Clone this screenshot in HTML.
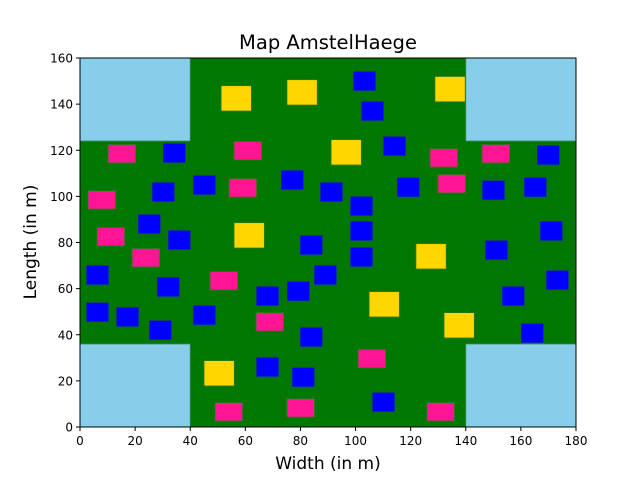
<!DOCTYPE html>
<html><head><meta charset="utf-8"><style>
html,body{margin:0;padding:0;background:#fff;}
svg{display:block;font-family:"DejaVu Sans","Liberation Sans",sans-serif;}
</style></head><body>
<svg id="chart" width="640" height="480" viewBox="0 0 640 480" xmlns="http://www.w3.org/2000/svg">
<rect width="640" height="480" fill="#fff"/>
<g id="plot"></g>
<g id="axes"></g>
<text x="328" y="49" font-size="19.5" text-anchor="middle">Map AmstelHaege</text>
<text x="328" y="469" font-size="17" text-anchor="middle">Width (in m)</text>
<text x="36" y="242" font-size="17" text-anchor="middle" transform="rotate(-90 36 242)">Length (in m)</text>
</svg>
<script>
const xTicks=[0,20,40,60,80,100,120,140,160,180];
const yTicks=[0,20,40,60,80,100,120,140,160];
const waterX=[0,140,0,140];
const waterY=[124,124,0,0];
const waterW=[40,40,40,40];
const waterH=[36,36,36,36];
const yellowX=[51.2,75.1,128.8,91.1,55.9,121.9,104.9,132.1,45];
const yellowY=[137,139.6,141,113.6,77.6,68.5,47.7,38.6,17.8];
const pinkX=[10.2,55.9,54.1,2.9,6.2,18.9,47.2,63.9,49,75.1,127,145.9,129.9,100.9,125.9];
const pinkY=[114.5,115.8,99.7,94.5,78.5,69.4,59.4,41.6,2.6,4.3,112.7,114.5,101.5,25.6,2.6];
const blueX=[30.1,26.1,41,72.9,87.1,21,31.9,79.8,2.2,27.9,63.9,75.1,84.9,2.2,13.1,25,41,79.8,63.9,76.9,99.1,102,110,165.8,115,145.9,161.1,98,98,166.9,147,98,169.1,153.1,160,106];
const blueY=[114.5,97.6,100.6,102.8,97.6,83.7,76.8,74.6,61.6,56.4,52.5,54.6,61.6,45.5,43.4,37.7,44.2,34.7,21.7,17.3,145.7,132.7,117.5,113.6,99.7,98.4,99.7,91.5,80.7,80.7,72.4,69.4,59.4,52.5,36.4,6.5];
const L=80,R=576,T=58,B=427;
const sx=v=>L+(v/180)*(R-L);
const sy=v=>B-(v/160)*(B-T);
const NS="http://www.w3.org/2000/svg";
const plot=document.getElementById('plot');
const axes=document.getElementById('axes');
function rect(x,y,w,h,fill,name,stroke){
  const r=document.createElementNS(NS,'rect');
  r.setAttribute('x',sx(x));r.setAttribute('y',sy(y+h));
  r.setAttribute('width',sx(x+w)-sx(x));r.setAttribute('height',sy(y)-sy(y+h));
  r.setAttribute('fill',fill);
  if(stroke){r.setAttribute('stroke',stroke);r.setAttribute('stroke-width','0.8');}
  
  
  plot.appendChild(r);
}
rect(0,0,180,160,'#007700','field');
for(let i=0;i<waterX.length;i++) rect(waterX[i],waterY[i],waterW[i],waterH[i],'#87ceeb','water','#3a8a4a');
for(let i=0;i<yellowX.length;i++) rect(yellowX[i],yellowY[i],11,11,'#ffd700','maison','#2a7a1a');
for(let i=0;i<pinkX.length;i++) rect(pinkX[i],pinkY[i],10,8,'#ff1493','bungalow','#2a7a1a');
for(let i=0;i<blueX.length;i++) rect(blueX[i],blueY[i],8.3,8.6,'#0000ff','family-home','#1a6a1a');
const frame=document.createElementNS(NS,'rect');
frame.setAttribute('x',L);frame.setAttribute('y',T);frame.setAttribute('width',R-L);frame.setAttribute('height',B-T);
frame.setAttribute('fill','none');frame.setAttribute('stroke','#000');frame.setAttribute('stroke-width','1');


axes.appendChild(frame);
xTicks.forEach(t=>{
  const l=document.createElementNS(NS,'line');
  l.setAttribute('x1',sx(t));l.setAttribute('x2',sx(t));l.setAttribute('y1',B);l.setAttribute('y2',B+4);l.setAttribute('stroke','#000');
  
  
  axes.appendChild(l);
  const tx=document.createElementNS(NS,'text');
  tx.setAttribute('x',sx(t));tx.setAttribute('y',B+18);tx.setAttribute('font-size','12');tx.setAttribute('text-anchor','middle');
  tx.textContent=t;
  
  
  axes.appendChild(tx);
});
yTicks.forEach(t=>{
  const l=document.createElementNS(NS,'line');
  l.setAttribute('x1',L-4);l.setAttribute('x2',L);l.setAttribute('y1',sy(t));l.setAttribute('y2',sy(t));l.setAttribute('stroke','#000');
  
  
  axes.appendChild(l);
  const tx=document.createElementNS(NS,'text');
  tx.setAttribute('x',L-7);tx.setAttribute('y',sy(t)+4.5);tx.setAttribute('font-size','12');tx.setAttribute('text-anchor','end');
  tx.textContent=t;
  
  
  axes.appendChild(tx);
});
</script>
</body></html>
